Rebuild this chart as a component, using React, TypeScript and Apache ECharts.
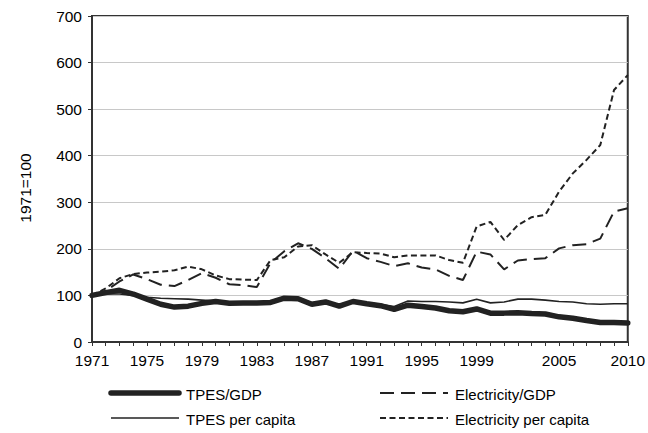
import React, { useEffect, useRef } from "react";
import * as echarts from "echarts";

const years = Array.from({ length: 40 }, (_, i) => String(1971 + i));
const labelYears = ["1971", "1975", "1979", "1983", "1987", "1991", "1995", "1999", "2005", "2010"];

const tpesGdp = [100, 106, 111, 103, 92, 81, 75, 77, 83, 87, 83, 84, 84, 85, 94, 93, 81, 86, 77, 87, 82, 78, 70, 79, 76, 73, 67, 65, 71, 62, 62, 63, 61, 60, 54, 51, 46, 42, 42, 41];
const tpesCap = [100, 103, 103, 100, 96, 94, 93, 92, 90, 88, 86, 85, 86, 87, 95, 94, 84, 86, 80, 89, 84, 81, 76, 88, 87, 87, 86, 84, 92, 84, 86, 92, 92, 90, 87, 86, 82, 81, 82, 82];
const elecGdp = [100, 110, 130, 145, 135, 123, 120, 133, 148, 138, 124, 122, 118, 170, 195, 212, 200, 180, 157, 196, 180, 172, 163, 169, 160, 156, 142, 133, 194, 188, 156, 175, 178, 180, 201, 208, 210, 222, 280, 287];
const elecCap = [100, 115, 137, 146, 149, 151, 154, 162, 156, 143, 135, 134, 133, 176, 182, 205, 208, 188, 170, 193, 191, 190, 182, 186, 186, 186, 176, 170, 248, 258, 219, 251, 268, 273, 323, 362, 391, 423, 541, 573];

const seriesNames = ["TPES/GDP", "TPES per capita", "Electricity/GDP", "Electricity per capita"];
const yAxisTitle = "1971=100";

const INK = "#222222";
const FONT = "Liberation Sans";
const FS = 15.5;
const LFS = 15;

const styles: any[] = [
  { color: INK, width: 5.5, cap: "round" },
  { color: INK, width: 1.6 },
  { color: INK, width: 2, type: [14, 7] },
  { color: INK, width: 2, type: [6, 3.5] },
];

export default function App() {
  const ref = useRef<HTMLDivElement>(null);
  useEffect(() => {
    if (!ref.current) return;
    const chart = echarts.init(ref.current, undefined, { renderer: "svg" });
    const textStyle = { fontFamily: FONT, fontSize: FS, color: "#000" };
    const legendPos = [
      { x: 111, y: 393 },
      { x: 111, y: 418 },
      { x: 380, y: 393 },
      { x: 380, y: 418 },
    ];
    const graphic: any[] = [
      {
        type: "text",
        x: 25,
        y: 188,
        rotation: Math.PI / 2,
        style: {
          text: yAxisTitle,
          fontFamily: FONT,
          fontSize: FS,
          fill: "#000",
          align: "center",
          verticalAlign: "middle",
        },
      },
    ];
    seriesNames.forEach((name, i) => {
      const p = legendPos[i];
      const s = styles[i];
      graphic.push({
        type: "line",
        shape: { x1: p.x, y1: p.y, x2: p.x + 68, y2: p.y },
        style: {
          stroke: s.color,
          lineWidth: s.width,
          lineCap: s.cap || "butt",
          lineDash: s.type || null,
        },
      });
      graphic.push({
        type: "text",
        x: p.x + 75,
        y: p.y + 1,
        style: {
          text: name,
          fontFamily: FONT,
          fontSize: LFS,
          fill: "#000",
          verticalAlign: "middle",
        },
      });
    });
    const datas = [tpesGdp, tpesCap, elecGdp, elecCap];
    chart.setOption({
      animation: false,
      textStyle: { fontFamily: FONT },
      grid: {
        left: 92,
        right: 18,
        top: 16,
        bottom: 91,
        show: true,
        borderColor: "#333",
        borderWidth: 2,
        backgroundColor: "transparent",
      },
      graphic,
      xAxis: {
        type: "category",
        data: years,
        boundaryGap: false,
        axisLine: { lineStyle: { color: "#333", width: 2 } },
        axisTick: { show: true, interval: 0, length: 4, lineStyle: { color: "#333" } },
        axisLabel: {
          ...textStyle,
          margin: 10,
          interval: (_i: number, v: string) => labelYears.includes(v),
        },
        splitLine: { show: false },
      },
      yAxis: {
        type: "value",
        min: 0,
        max: 700,
        interval: 100,
        axisLine: { show: true, lineStyle: { color: "#333", width: 2 } },
        axisTick: { show: true, length: 4, lineStyle: { color: "#333" } },
        axisLabel: { ...textStyle, margin: 10 },
        splitLine: { show: true, lineStyle: { color: "#c8c8c8", width: 1 } },
      },
      series: seriesNames.map((name, i) => ({
        name,
        type: "line",
        data: datas[i],
        symbol: "none",
        lineStyle: styles[i],
        itemStyle: { color: INK },
        z: i === 0 ? 5 : i === 1 ? 4 : 3,
      })),
    });
    return () => chart.dispose();
  }, []);
  return <div ref={ref} style={{ width: 648, height: 433, position: "absolute", left: 0, top: 0 }} />;
}
